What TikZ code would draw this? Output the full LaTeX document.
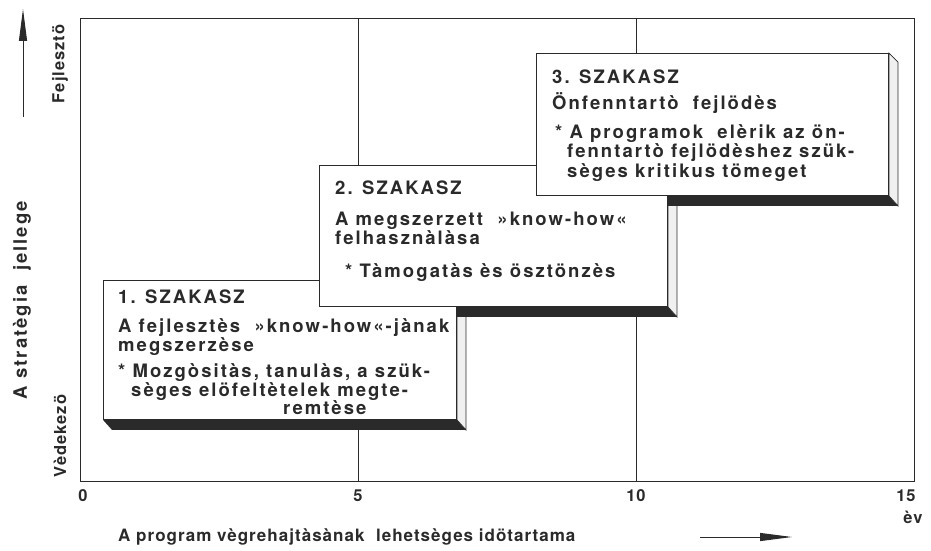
\documentclass[tikz,border=0pt]{standalone}
\usepackage{fontspec}
\setmainfont{TeX Gyre Heros}
\newfontfamily\boxfont[LetterSpace=11]{TeX Gyre Heros}
\newfontfamily\axfont[LetterSpace=6]{TeX Gyre Heros}
\usetikzlibrary{arrows.meta}
\pgfdeclarelayer{background}
\pgfsetlayers{background,main}
\definecolor{ink}{HTML}{2A2A2A}
\tikzset{
  x=1pt, y=-1pt,
  frame/.style={draw=ink, line width=0.8pt},
  face/.style={draw=ink, line width=0.9pt, fill=white, anchor=north west, inner sep=0pt},
  bottomface/.style={fill=ink},
  sideface/.style={fill=gray!12, draw=ink, line width=0.8pt},
  txt/.style={anchor=base west, inner sep=0pt, text=ink, font=\boxfont\bfseries\fontsize{18.5}{21}\selectfont},
  axtxt/.style={inner sep=0pt, text=ink, font=\axfont\bfseries\fontsize{16.5}{19}\selectfont},
  axarrow/.style={draw=ink, line width=1pt, -{Triangle[length=32pt, width=8pt]}},
}
\begin{document}
\begin{tikzpicture}
\useasboundingbox (0,0) rectangle (931,551);
% frame and grid
\draw[frame] (80,18) rectangle (914,481);
\coordinate (g5t) at (358,18); \coordinate (g5b) at (358,481);
\coordinate (g10t) at (636,18); \coordinate (g10b) at (636,481);
\draw[frame, line width=0.6pt] (g5t) -- (g5b);
\draw[frame, line width=0.6pt] (g10t) -- (g10b);

% box faces
\node[face, minimum width=353pt, minimum height=139pt] (b1) at (103,280) {};
\node[face, minimum width=348pt, minimum height=141pt] (b2) at (319,165) {};
\node[face, minimum width=352pt, minimum height=142pt] (b3) at (536,53) {};

% extrusions on background
\begin{pgfonlayer}{background}
\foreach \b in {b1,b2,b3}{
  \fill[bottomface] (\b.south west) -- (\b.south east) -- ([shift={(9pt,-10pt)}]\b.south east) -- ([shift={(9pt,-10pt)}]\b.south west) -- cycle;
  \filldraw[sideface] (\b.north east) -- ([shift={(9pt,-9pt)}]\b.north east) -- ([shift={(9pt,-10pt)}]\b.south east) -- (\b.south east) -- cycle;
}
\end{pgfonlayer}

% box 1 text
\node[txt] (t11) at (118,303) {1. SZAKASZ};
\node[txt] (t12) at (118,332) {A fejlesztès \ »know-how«-jànak};
\node[txt] (t13) at (118,351) {megszerzèse};
\node[txt] (t14) at (118,377) {* Mozgòsitàs, tanulàs, a szük-};
\node[txt] (t15) at (131,396) {sèges elöfeltètelek megte-};
\node[txt] (t16) at (283,414) {remtèse};

% box 2 text
\node[txt] (t21) at (335,194) {2. SZAKASZ};
\node[txt] (t22) at (335,225) {A megszerzett \ »know-how«};
\node[txt] (t23) at (335,244) {felhasznàlàsa};
\node[txt] (t24) at (345,277) {* Tàmogatàs ès ösztönzès};

% box 3 text
\node[txt] (t31) at (552,84) {3. SZAKASZ};
\node[txt] (t32) at (552,109) {Önfenntartò \ fejlödès};
\node[txt] (t33) at (555,138) {* A programok \ elèrik az ön-};
\node[txt] (t34) at (567,157) {fenntartò fejlödèshez szük-};
\node[txt] (t35) at (567,177) {sèges kritikus tömeget};

% x axis labels
\node[axtxt] (x0) at (83,496) {0};
\node[axtxt] (x5) at (358,496) {5};
\node[axtxt] (x10) at (636,496) {10};
\node[axtxt] (x15) at (906,496) {15};
\node[axtxt] (ev) at (913,517) {èv};
\node[axtxt, anchor=west, font=\axfont\bfseries\fontsize{17}{19}\selectfont] (xl) at (118,537) {A program vègrehajtàsànak \ lehetsèges idötartama};
\coordinate (xa1) at (700,537); \coordinate (xa2) at (792,537);
\draw[axarrow] (xa1) -- (xa2);

% y axis labels
\node[axtxt, rotate=90] (yv) at (60,436) {Vèdekezö};
\node[axtxt, rotate=90] (yf) at (60,64) {Fejlesztö};
\node[axtxt, rotate=90, font=\boxfont\bfseries\fontsize{18.5}{21}\selectfont] (yl) at (22,300) {A stratègia \ jellege};
\coordinate (ya1) at (23,117); \coordinate (ya2) at (23,9);
\draw[axarrow] (ya1) -- (ya2);
\end{tikzpicture}
\end{document}
